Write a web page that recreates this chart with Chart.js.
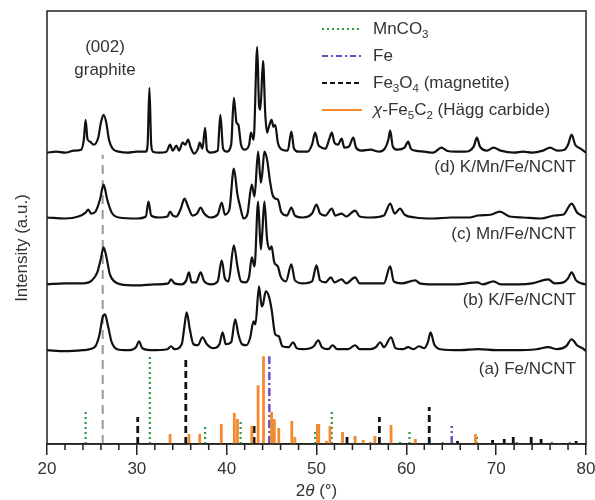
<!DOCTYPE html>
<html>
<head>
<meta charset="utf-8">
<script src="https://cdn.jsdelivr.net/npm/chart.js@4.4.1/dist/chart.umd.min.js"></script>
<style>
  html, body { margin: 0; padding: 0; background: #fff; }
  #wrap { width: 595px; height: 500px; }
</style>
</head>
<body>
<div id="wrap"><canvas id="xrdChart" width="595" height="500"></canvas></div>
<script>
// 2theta range and tick labels
const xTicks = [20, 30, 40, 50, 60, 70, 80];
const minorTicks = [22, 24, 26, 28, 32, 34, 36, 38, 42, 44, 46, 48, 52, 54, 56, 58, 62, 64, 66, 68, 72, 74, 76, 78];

// XRD patterns: [2theta, intensity] (offset intensities as stacked in the figure)
const patternD = [[20,292],[21,293],[22,292],[23,294],[23.8,295],[24.1,305],[24.3,325],[24.5,306],[24.8,303],[25.2,300],[25.7,307],[26.0,322],[26.3,330],[26.6,322],[26.9,305],[27.3,296],[28,293],[29,292],[30,293],[31.0,293],[31.2,300],[31.4,357],[31.6,300],[31.8,293],[32.5,292],[33.3,293],[33.7,300],[34.0,294],[34.4,299],[34.7,294],[35.1,302],[35.4,300],[35.7,305],[36.0,297],[36.4,291],[36.8,296],[37.0,302],[37.3,296],[37.6,317],[37.8,295],[38.2,292],[39.0,294],[39.3,330],[39.6,296],[40.0,293],[40.5,300],[40.8,347],[41.1,322],[41.3,320],[41.6,300],[42.0,295],[42.5,300],[42.7,312],[43.0,305],[43.4,398],[43.6,340],[43.75,335],[44.05,384],[44.3,330],[44.5,312],[44.7,318],[45.0,325],[45.2,318],[45.4,320],[45.7,302],[46.2,295],[46.8,294],[47.2,313],[47.5,296],[48.0,293],[49.0,293],[49.5,300],[49.85,312],[50.2,300],[50.6,297],[51.0,296],[51.4,305],[51.7,312],[52.0,302],[52.4,300],[52.8,306],[53.1,297],[53.6,298],[54.1,307],[54.4,297],[55.0,294],[56,295],[57.0,293],[57.6,296],[58.0,305],[58.2,314],[58.5,298],[59.0,295],[59.8,297],[60.2,303],[60.5,296],[61,294],[62,293],[63,292],[63.9,297],[64.5,294],[65.5,293],[66.5,293],[67.5,298],[67.85,307],[68.2,298],[69,294],[69.7,297],[70.5,294],[72,292],[73,293],[74,292],[75.2,294],[76.0,297],[76.8,294],[77.6,295],[78.0,300],[78.4,310],[78.8,300],[79.4,296],[80,292]];

const patternC = [[20,227],[22,226],[23.5,228],[24.3,232],[24.6,235],[24.9,231],[25.4,233],[25.9,245],[26.3,260],[26.7,245],[27.2,232],[28,227],[30,226],[31.0,228],[31.3,243],[31.6,229],[32.5,227],[33.4,228],[33.7,233],[34.0,229],[34.4,228],[34.9,236],[35.3,246],[35.7,238],[36.2,229],[36.7,231],[37.1,237],[37.5,231],[38.2,227],[39.0,230],[39.45,242],[39.8,230],[40.3,235],[40.8,276],[41.2,250],[41.5,238],[41.9,226],[42.3,230],[42.8,260],[43.1,248],[43.5,293],[43.8,262],[43.95,270],[44.2,293],[44.5,285],[44.8,265],[45.1,250],[45.4,246],[45.7,245],[46.1,232],[46.7,229],[47.2,237],[47.6,229],[48.5,227],[49.5,231],[50.0,240],[50.4,231],[51.0,229],[51.7,236],[52.1,229],[52.8,231],[53.3,228],[54.3,234],[54.8,228],[56,227],[57.5,229],[58.2,241],[58.7,231],[59.3,236],[59.8,230],[61,227],[63,226],[65,227],[67,227],[68,229],[69.5,230],[70.4,233],[71.5,228],[73,227],[75,226],[76.5,229],[77.5,230],[78.4,241],[79,232],[80,227]];

const patternB = [[20,160],[22,161],[24,161],[25.0,164],[25.6,172],[26.0,186],[26.3,197],[26.6,188],[27.0,170],[27.5,163],[28.2,160],[30,159],[32,160],[33.5,161],[33.8,165],[34.2,161],[35.0,160],[35.5,164],[35.8,172],[36.1,162],[36.6,162],[37.1,172],[37.5,163],[38.3,160],[39.0,163],[39.45,184],[39.8,166],[40.2,163],[40.8,199],[41.2,178],[41.6,163],[42.1,162],[42.5,168],[42.8,187],[43.1,178],[43.5,243],[43.8,195],[43.95,210],[44.2,243],[44.5,205],[44.8,195],[45.0,198],[45.3,182],[45.7,178],[46.0,168],[46.6,163],[47.2,180],[47.6,164],[48.5,161],[49.5,163],[50.0,179],[50.4,164],[51.0,162],[51.6,167],[52.0,162],[52.8,165],[53.3,161],[54.3,167],[54.8,161],[56,161],[57.5,161],[58.2,178],[58.6,163],[59.5,161],[61.0,164],[61.5,161],[63,160],[65.5,160],[67.9,162],[68.5,160],[69.7,163],[70.5,160],[72.5,160],[74,161],[75.8,165],[76.5,161],[77.5,162],[78.0,166],[78.4,172],[78.9,164],[79.5,161],[80,160]];

const patternA = [[20,94],[22,93],[24,94],[25.3,97],[25.8,108],[26.2,127],[26.45,130],[26.8,118],[27.2,102],[27.8,95],[29,94],[29.9,97],[30.25,103],[30.6,96],[31.5,94],[33.4,95],[33.8,98],[34.2,95],[35.0,100],[35.3,118],[35.55,132],[35.9,115],[36.3,100],[36.8,99],[37.3,107],[37.8,100],[38.5,96],[39.2,100],[39.55,112],[39.9,100],[40.5,102],[40.95,125],[41.3,110],[41.7,100],[42.2,99],[42.6,106],[43.0,123],[43.2,120],[43.6,158],[43.9,138],[44.05,140],[44.35,153],[44.7,148],[45.0,135],[45.4,110],[45.8,108],[46.2,98],[46.9,97],[47.4,102],[47.8,96],[48.5,95],[49.3,96],[49.7,98],[50.2,104],[50.6,97],[51.3,95],[51.8,99],[52.3,95],[53.5,95],[54.3,99],[54.8,95],[56,95],[56.6,97],[57.1,102],[57.5,97],[58.3,107],[58.8,96],[59.6,95],[60.2,97],[60.8,95],[61.4,98],[62.0,96],[62.4,102],[62.7,112],[63.1,100],[63.8,95],[66,94],[68,95],[70,94],[72,94],[74.5,95],[75.8,97],[76.8,95],[77.8,98],[78.4,105],[79.0,99],[79.6,96],[80,93]];

// reference patterns: [2theta, relative height]
const refMnCO3 = [[24.3,32],[31.45,88],[37.6,19],[41.55,24],[45.3,23],[49.85,13],[51.7,32],[59.3,3],[60.35,15],[64.05,3],[67.85,10],[72.3,3],[76.2,2],[78.2,5]];
const refFe = [[44.75,88],[65.05,18]];
const refFe3O4 = [[30.1,27],[35.45,88],[43.05,18],[53.4,10],[57.0,27],[62.55,37],[65.7,3],[69.6,4],[70.9,5],[71.9,10],[73.9,10],[75.0,5],[78.9,3]];
const refFe5C2 = [[33.7,10],[35.8,10],[37.0,10],[39.4,20],[40.85,31],[41.2,25],[42.8,18],[43.5,59],[44.1,88],[45.0,32],[45.3,25],[45.8,16],[47.25,23],[47.6,7],[50.1,20],[50.25,20],[51.1,3],[51.5,18],[52.9,12],[54.3,8],[55.2,4],[56.0,2],[56.5,8],[58.3,19],[61.0,5],[67.7,10]];
const graphiteLine = [[26.2, 290]];

const sampleLabels = ["(d) K/Mn/Fe/NCNT", "(c) Mn/Fe/NCNT", "(b) K/Fe/NCNT", "(a) Fe/NCNT"];
const legendLabels = [
  [["MnCO", ""], ["3", "sub"]],
  [["Fe", ""]],
  [["Fe", ""], ["3", "sub"], ["O", ""], ["4", "sub"], [" (magnetite)", ""]],
  [["\u03c7", "it"], ["-Fe", ""], ["5", "sub"], ["C", ""], ["2", "sub"], [" (H\u00e4gg carbide)", ""]]
];

const FONT = 'Arial, "Liberation Sans", Helvetica, sans-serif';
const toXY = arr => arr.map(p => ({ x: p[0], y: p[1] }));
const toSticks = arr => {
  const out = [];
  arr.forEach(p => { out.push({ x: p[0], y: 0 }, { x: p[0], y: p[1] }, { x: p[0], y: null }); });
  return out;
};

const phases = [
  { name: "MnCO3", data: refMnCO3, color: "#2f9a3c", width: 2.2, dash: [2, 3] },
  { name: "Fe", data: refFe, color: "#6a4fc0", width: 2.5, dash: [8, 3, 2, 3] },
  { name: "Fe3O4", data: refFe3O4, color: "#111111", width: 2.8, dash: [7, 4] },
  { name: "Fe5C2", data: refFe5C2, color: "#f28a30", width: 2.8, dash: [] }
];

const curveStyle = { borderColor: "#111", borderWidth: 2.2, pointRadius: 0, cubicInterpolationMode: "monotone", fill: false, borderJoinStyle: "round" };

const datasets = [
  Object.assign({ label: sampleLabels[0], data: toXY(patternD) }, curveStyle),
  Object.assign({ label: sampleLabels[1], data: toXY(patternC) }, curveStyle),
  Object.assign({ label: sampleLabels[2], data: toXY(patternB) }, curveStyle),
  Object.assign({ label: sampleLabels[3], data: toXY(patternA) }, curveStyle),
  { label: "graphite", data: toSticks(graphiteLine), borderColor: "#999", borderWidth: 2, borderDash: [9, 6], pointRadius: 0, spanGaps: false }
];
phases.slice().reverse().forEach(ph => {
  datasets.push({ label: ph.name, data: toSticks(ph.data), borderColor: ph.color, borderWidth: ph.width, borderDash: ph.dash, pointRadius: 0, spanGaps: false, borderCapStyle: "butt" });
});

function drawRich(ctx, parts, x, y, size) {
  parts.forEach(([t, kind]) => {
    if (kind === "sub") {
      ctx.font = (size * 0.68) + "px " + FONT;
      ctx.fillText(t, x, y + size * 0.32);
    } else {
      ctx.font = (kind === "it" ? "italic " : "") + size + "px " + FONT;
      ctx.fillText(t, x, y);
    }
    x += ctx.measureText(t).width;
  });
}

const decorations = {
  id: "decorations",
  afterDraw(chart) {
    const { ctx, chartArea: a, scales } = chart;
    ctx.save();
    // frame
    ctx.strokeStyle = "#222";
    ctx.lineWidth = 1.5;
    ctx.strokeRect(a.left, a.top, a.right - a.left, a.bottom - a.top);
    // minor ticks
    ctx.beginPath();
    minorTicks.forEach(v => {
      const px = scales.x.getPixelForValue(v);
      ctx.moveTo(px, a.bottom);
      ctx.lineTo(px, a.bottom + 6);
    });
    ctx.stroke();

    ctx.fillStyle = "#333";
    ctx.textBaseline = "middle";
    // sample labels
    ctx.font = "17px " + FONT;
    ctx.textAlign = "right";
    const labelY = [167, 234, 300, 369];
    sampleLabels.forEach((t, i) => ctx.fillText(t, 576, labelY[i]));
    // graphite annotation
    ctx.textAlign = "center";
    ctx.fillText("(002)", 105, 47);
    ctx.fillText("graphite", 105, 70);

    // legend
    ctx.textAlign = "left";
    const legY = [29, 56, 83, 110];
    phases.forEach((ph, i) => {
      ctx.save();
      ctx.strokeStyle = ph.color;
      ctx.lineWidth = ph.name === "MnCO3" ? 2 : 2.2;
      ctx.setLineDash(ph.name === "Fe3O4" ? [5, 3] : ph.name === "Fe" ? [6, 3, 2, 3] : ph.dash);
      ctx.beginPath();
      ctx.moveTo(322, legY[i]);
      ctx.lineTo(362, legY[i]);
      ctx.stroke();
      ctx.restore();
      drawRich(ctx, legendLabels[i], 373, legY[i], 17);
    });

    // axis titles
    ctx.textAlign = "left";
    const title = [["2", ""], ["\u03b8", "it"], [" (\u00b0)", ""]];
    let w = 0;
    title.forEach(([t, k]) => { ctx.font = (k === "it" ? "italic " : "") + "17px " + FONT; w += ctx.measureText(t).width; });
    drawRich(ctx, title, (a.left + a.right) / 2 - w / 2, 491, 17);

    ctx.translate(22, 248);
    ctx.rotate(-Math.PI / 2);
    ctx.textAlign = "center";
    ctx.font = "17px " + FONT;
    ctx.fillText("Intensity (a.u.)", 0, 0);
    ctx.restore();
  }
};

new Chart(document.getElementById("xrdChart"), {
  type: "line",
  data: { datasets },
  options: {
    responsive: false,
    animation: false,
    layout: { padding: { left: 47, right: 9, top: 11, bottom: 0 } },
    plugins: { legend: { display: false }, tooltip: { enabled: false } },
    scales: {
      x: {
        type: "linear",
        min: 20,
        max: 80,
        afterBuildTicks: scale => { scale.ticks = xTicks.map(v => ({ value: v })); },
        afterFit: scale => { scale.height = 56; scale.paddingLeft = 0; scale.paddingRight = 0; },
        ticks: { color: "#333", font: { size: 17, family: FONT }, padding: 4, maxRotation: 0 },
        grid: { drawOnChartArea: false, drawTicks: true, tickLength: 11, color: "#222", lineWidth: 1.5 },
        border: { color: "#222", width: 1.5 }
      },
      y: {
        display: false,
        min: 0,
        max: 434
      }
    }
  },
  plugins: [decorations]
});
</script>
</body>
</html>
